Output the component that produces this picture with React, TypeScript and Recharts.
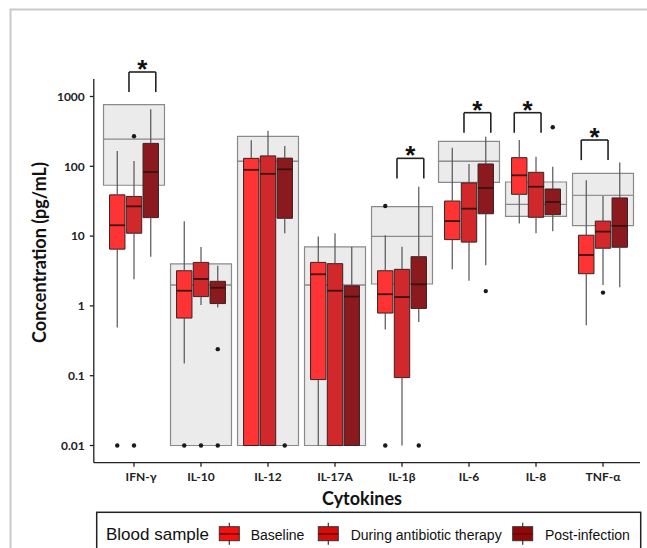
import React from 'react';
import {
  ComposedChart,
  XAxis,
  YAxis,
  ReferenceArea,
  ReferenceLine,
  ReferenceDot,
  Scatter,
} from 'recharts';

const cytokines = ['IFN-γ', 'IL-10', 'IL-12', 'IL-17A', 'IL-1β', 'IL-6', 'IL-8', 'TNF-α'];
const groupNames = ['Baseline', 'During antibiotic therapy', 'Post-infection'];
const yTicks = [0.01, 0.1, 1, 10, 100, 1000];

// grey reference boxes (low, middle line, high)
const refLow = [53.5, 0.01, 0.01, 0.01, 2.06, 59, 19.2, 14.1];
const refMid = [246, 2, 119, 2, 9.9, 119, 28.5, 38.5];
const refHigh = [764, 4, 269, 7, 26.4, 228, 59.6, 79.4];

// Baseline
const baselineMin = [0.49, 0.15, 0.01, 0.01, 0.46, 3.34, 15.2, 0.53];
const baselineQ1 = [6.5, 0.67, 0.01, 0.088, 0.79, 8.9, 39.7, 2.89];
const baselineMedian = [14.3, 1.65, 89, 2.84, 1.47, 16.4, 74.3, 5.36];
const baselineQ3 = [39, 3.19, 130, 4.2, 3.19, 31.8, 133, 10.3];
const baselineMax = [166, 16.3, 236, 9.9, 10.3, 185, 238, 63];
const baselineOutliers = [[0, 0.01], [1, 0.01], [4, 0.01], [4, 27]];

// During antibiotic therapy
const duringMin = [2.4, 1.03, 0.01, 0.01, 0.01, 2.3, 11, 2.0];
const duringQ1 = [11, 1.36, 0.01, 0.01, 0.094, 8.2, 18.6, 6.7];
const duringMedian = [26.7, 2.43, 78, 1.65, 1.34, 24.7, 51, 11.6];
const duringQ3 = [37, 4.2, 141, 4.03, 3.34, 57.7, 82, 16.4];
const duringMax = [119, 7.0, 324, 11, 7.05, 108, 137, 37.6];
const duringOutliers = [[0, 0.01], [0, 269], [1, 0.01], [7, 1.55]];

// Post-infection
const postMin = [5.07, 0.95, 11, 0.01, 0.59, 3.82, 11.7, 1.85];
const postQ1 = [18.4, 1.08, 18, 0.01, 0.92, 20.9, 20.3, 6.92];
const postMedian = [82.8, 1.82, 90.6, 1.36, 2.04, 48.9, 30.8, 14];
const postQ3 = [213, 2.25, 131, 1.94, 5.07, 108, 47.3, 35.2];
const postMax = [656, 3.77, 195, 7, 51, 266, 98.6, 113];
const postOutliers = [[1, 0.24], [1, 0.01], [2, 0.01], [4, 0.01], [5, 1.63], [6, 362]];

// significance brackets: category, compared groups, height of bracket
const bracketCategory = [0, 4, 5, 6, 7];
const bracketGroupA = [1, 1, 1, 0, 0];
const bracketGroupB = [2, 2, 2, 1, 1];
const bracketTop = [2244, 130, 586, 586, 238];
const bracketLabel = ['*', '*', '*', '*', '*'];

const groups = [
  { min: baselineMin, q1: baselineQ1, med: baselineMedian, q3: baselineQ3, max: baselineMax, out: baselineOutliers },
  { min: duringMin, q1: duringQ1, med: duringMedian, q3: duringQ3, max: duringMax, out: duringOutliers },
  { min: postMin, q1: postQ1, med: postMedian, q3: postQ3, max: postMax, out: postOutliers },
];

const groupOffset = [-0.25, 0, 0.25];
const boxHalf = 0.115;
const refHalf = 0.455;
const boxFills = ['#fe3434', '#d1282b', '#8b1a1f'];
const keyFills = ['#f50f0f', '#d60b0b', '#8f0707'];
const FONT = 'Lato, "Open Sans", sans-serif';

const XTick = (props: any) => {
  const { x, y, payload } = props;
  const label = cytokines[payload.value - 1];
  const dx = payload.value === 1 ? 7 : 0;
  return (
    <text x={x + dx} y={y} dy="0.71em" textAnchor="middle" fontFamily={FONT} fontWeight={700} fontSize={12} fill="#222">
      {label}
    </text>
  );
};

const YTick = (props: any) => {
  const { x, y, payload } = props;
  return (
    <text x={x} y={y} dy="0.355em" textAnchor="end" fontFamily={FONT} fontWeight={700} fontSize={12} fill="#222">
      {String(payload.value)}
    </text>
  );
};

export default function App() {
  const els: React.ReactNode[] = [];

  // grey reference boxes (two halves give the middle line)
  cytokines.forEach((_, i) => {
    const c = i + 1;
    els.push(
      <ReferenceArea key={`rl${i}`} x1={c - refHalf} x2={c + refHalf} y1={refLow[i]} y2={refMid[i]}
        fill="#ebebeb" fillOpacity={1} stroke="#8a8a8a" strokeWidth={1.2} ifOverflow="visible" />,
      <ReferenceArea key={`rh${i}`} x1={c - refHalf} x2={c + refHalf} y1={refMid[i]} y2={refHigh[i]}
        fill="#ebebeb" fillOpacity={1} stroke="#8a8a8a" strokeWidth={1.2} ifOverflow="visible" />
    );
  });

  // colored boxes
  groups.forEach((g, gi) => {
    cytokines.forEach((_, i) => {
      const c = i + 1 + groupOffset[gi];
      els.push(
        <ReferenceArea key={`b${gi}-${i}`} x1={c - boxHalf} x2={c + boxHalf} y1={g.q1[i]} y2={g.q3[i]}
          fill={boxFills[gi]} fillOpacity={1} stroke="#3a2222" strokeWidth={1} ifOverflow="visible" />
      );
    });
  });

  const lines: React.ReactNode[] = [];
  groups.forEach((g, gi) => {
    cytokines.forEach((_, i) => {
      const c = i + 1 + groupOffset[gi];
      lines.push(
        <ReferenceLine key={`wl${gi}-${i}`} segment={[{ x: c, y: g.min[i] }, { x: c, y: g.q1[i] }]}
          stroke="#555" strokeWidth={1.2} ifOverflow="visible" />,
        <ReferenceLine key={`wh${gi}-${i}`} segment={[{ x: c, y: g.q3[i] }, { x: c, y: g.max[i] }]}
          stroke="#555" strokeWidth={1.2} ifOverflow="visible" />,
        <ReferenceLine key={`m${gi}-${i}`} segment={[{ x: c - boxHalf, y: g.med[i] }, { x: c + boxHalf, y: g.med[i] }]}
          stroke="#3a1212" strokeWidth={1.8} ifOverflow="visible" />
      );
    });
  });

  const outlierPts = groups.flatMap((g, gi) =>
    g.out.map(([i, v]) => ({ x: i + 1 + groupOffset[gi], y: v }))
  );

  const brackets: React.ReactNode[] = [];
  bracketCategory.forEach((ci, k) => {
    const mid = ci + 1 + (groupOffset[bracketGroupA[k]] + groupOffset[bracketGroupB[k]]) / 2;
    const x1 = mid - 0.2;
    const x2 = mid + 0.2;
    const top = bracketTop[k];
    const legEnd = top / 1.94;
    brackets.push(
      <ReferenceLine key={`bk${k}`} segment={[{ x: x1, y: legEnd }, { x: x1, y: top }, { x: x2, y: top }, { x: x2, y: legEnd }]}
        stroke="#222" strokeWidth={1.6} ifOverflow="visible" />,
      <ReferenceLine key={`bh${k}`} segment={[{ x: x1, y: top }, { x: x2, y: top }]}
        stroke="#222" strokeWidth={1.6} ifOverflow="visible" />,
      <ReferenceLine key={`br${k}`} segment={[{ x: x2, y: legEnd }, { x: x2, y: top }]}
        stroke="#222" strokeWidth={1.6} ifOverflow="visible" />,
      <ReferenceLine key={`bl${k}`} segment={[{ x: x1, y: legEnd }, { x: x1, y: top }]}
        stroke="#222" strokeWidth={1.6} ifOverflow="visible" />,
      <ReferenceDot key={`ba${k}`} x={mid} y={top} r={0} ifOverflow="visible"
        shape={(p: any) => (
          <text x={p.cx} y={p.cy + 6} textAnchor="middle" fontFamily='"Liberation Sans", Arial, sans-serif'
            fontWeight={700} fontSize={26} fill="#111">{bracketLabel[k]}</text>
        )} />
    );
  });

  const keyX = [219.3, 318.3, 512.7];
  const textX = [250.7, 350.7, 545];

  return (
    <div style={{ position: 'absolute', left: 0, top: 0, width: 647, height: 548, background: '#fff', overflow: 'hidden' }}>
      <svg width={647} height={548} style={{ position: 'absolute', left: 0, top: 0 }}>
        <path d="M10.5 548 L10.5 9.5 L647 9.5" fill="none" stroke="#c9c9c9" strokeWidth={2} />
      </svg>
      <div style={{ position: 'absolute', left: 0, top: 0 }}>
        <ComposedChart width={647} height={548} margin={{ top: 79, right: 7, bottom: 45.3, left: 0 }}>
          <XAxis
            type="number"
            dataKey="x"
            domain={[0.4, 8.552]}
            allowDataOverflow
            ticks={[1, 2, 3, 4, 5, 6, 7, 8]}
            tick={<XTick />}
            tickSize={4}
            tickMargin={6}
            height={40}
            stroke="#222"
            strokeWidth={1.3}
            label={{
              content: () => (
                <text x={362} y={505} textAnchor="middle" fontFamily={FONT} fontWeight={700} fontSize={18} fill="#111">
                  Cytokines
                </text>
              ),
            }}
          />
          <YAxis
            type="number"
            dataKey="y"
            scale="log"
            domain={[0.005671, 1781]}
            allowDataOverflow
            ticks={yTicks}
            tick={<YTick />}
            tickSize={4}
            tickMargin={5}
            width={93.8}
            stroke="#222"
            strokeWidth={1.3}
            label={{
              content: () => (
                <text x={46} y={252.5} transform="rotate(-90, 46, 252.5)" textAnchor="middle" fontFamily={FONT}
                  fontWeight={700} fontSize={18} fill="#111">
                  Concentration (pg/mL)
                </text>
              ),
            }}
          />
          {els}
          {lines}
          {brackets}
          <Scatter
            data={outlierPts}
            dataKey="y"
            isAnimationActive={false}
            shape={(p: any) => <circle cx={p.cx} cy={p.cy} r={2.2} fill="#1a1a1a" />}
          />
        </ComposedChart>
      </div>
      <svg width={647} height={548} style={{ position: 'absolute', left: 0, top: 0, pointerEvents: 'none' }}>
        <rect x={96.7} y={512.3} width={544} height={60} fill="#fff" stroke="#222" strokeWidth={1.5} />
        <text x={106} y={540} fontFamily='"Liberation Sans", Arial, sans-serif' fontSize={17} fill="#111">
          Blood sample
        </text>
        {groupNames.map((n, i) => (
          <g key={n}>
            <line x1={keyX[i] + 10} x2={keyX[i] + 10} y1={522.7} y2={544.7} stroke="#333" strokeWidth={1.2} />
            <rect x={keyX[i]} y={526.7} width={20} height={14} fill={keyFills[i]} stroke="#333" strokeWidth={1} />
            <line x1={keyX[i]} x2={keyX[i] + 20} y1={534} y2={534} stroke="#6a0a0a" strokeWidth={1.6} />
            <text x={textX[i]} y={539.5} fontFamily='"Liberation Sans", Arial, sans-serif' fontSize={14} fill="#111">
              {n}
            </text>
          </g>
        ))}
      </svg>
    </div>
  );
}
